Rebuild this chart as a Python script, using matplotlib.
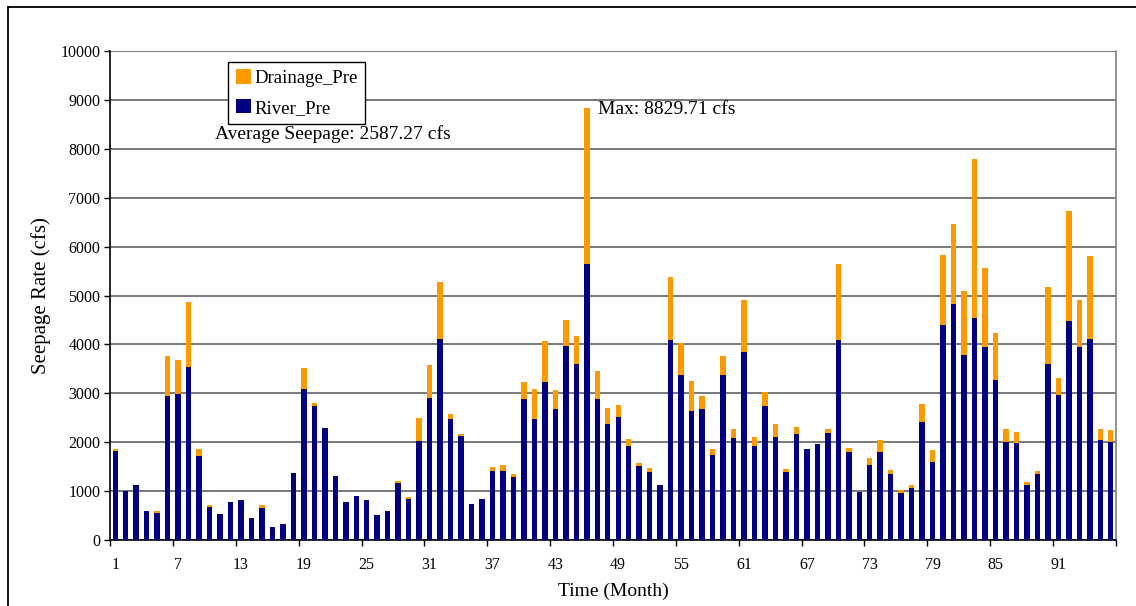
import matplotlib
matplotlib.use("Agg")
import matplotlib.pyplot as plt
from matplotlib.patches import Patch
from matplotlib.lines import Line2D
import numpy as np

plt.rcParams['font.family'] = ['Liberation Serif', 'DejaVu Serif']

# Monthly seepage components (cfs)
months = list(range(1, 97))
river_pre = [
    1814, 999, 1121, 591, 550, 2935, 2976, 3533, 1712, 673,
    530, 774, 815, 448, 652, 265, 326, 1365, 3098, 2731,
    2283, 1304, 774, 897, 815, 510, 591, 1162, 836, 2018,
    2914, 4117, 2466, 2120, 734, 836, 1406, 1406, 1284, 2874,
    2466, 3240, 2670, 3974, 3607, 5650, 2880, 2373, 2516, 1923,
    1514, 1391, 1125, 4091, 3375, 2639, 2680, 1739, 3375, 2086,
    3845, 1923, 2741, 2107, 1391, 2168, 1861, 1964, 2189, 4091,
    1800, 981, 1531, 1796, 1347, 959, 1061, 2408, 1592, 4388,
    4817, 3776, 4531, 3939, 3265, 2000, 1980, 1122, 1347, 3592,
    2959, 4470, 3939, 4102, 2041, 2000,
]
drainage_pre = [
    41, 0, 0, 0, 41, 835, 713, 1338, 143, 40,
    0, 0, 0, 0, 61, 0, 0, 0, 428, 61,
    0, 0, 0, 0, 0, 0, 0, 40, 40, 468,
    673, 1162, 102, 40, 0, 0, 82, 123, 61, 366,
    632, 836, 407, 530, 571, 3179.71, 570, 327, 245, 143,
    61, 82, 0, 1288, 655, 613, 265, 122, 389, 184,
    1064, 184, 286, 266, 61, 143, 0, 0, 81, 1554,
    80, 0, 143, 245, 82, 61, 61, 368, 245, 1449,
    1653, 1326, 3265, 1633, 960, 265, 224, 62, 61, 1592,
    347, 2265, 979, 1715, 224, 245,
]
x_tick_labels = [str(m) for m in range(1, 97, 6)]
avg_text = "Average Seepage: 2587.27 cfs"
max_text = "Max: 8829.71 cfs"

W, H = 1136, 606
fig = plt.figure(figsize=(W / 100, H / 100), dpi=100)
fig.patch.set_facecolor('white')

# outer chart border (top and left edges visible)
fig.add_artist(Line2D([8 / W, 8 / W], [0, 1 - 7 / H], transform=fig.transFigure,
                      color='black', lw=1.3))
fig.add_artist(Line2D([8 / W, 1], [1 - 7 / H, 1 - 7 / H], transform=fig.transFigure,
                      color='black', lw=1.3))

left, right = 110 / W, 1116 / W
bottom, top = (H - 540) / H, (H - 51) / H
ax = fig.add_axes([left, bottom, right - left, top - bottom])

navy = '#000080'
orange = '#FF9900'
bw = 0.52
ax.bar(months, river_pre, width=bw, color=navy, zorder=3, label='River_Pre')
ax.bar(months, drainage_pre, width=bw, bottom=river_pre, color=orange, zorder=3,
       label='Drainage_Pre')

ax.set_xlim(0.5, 96.5)
ax.set_ylim(0, 10000)
ax.set_yticks(np.arange(0, 10001, 1000))
ax.yaxis.grid(True, color='#555555', lw=1.1, zorder=1)
ax.set_axisbelow(True)

# category-style ticks between months, labels every sixth month
ax.set_xticks(np.arange(0.5, 97, 6))
ax.set_xticklabels([])
ax.set_xticks(np.arange(1, 97, 6), minor=True)
ax.set_xticklabels(x_tick_labels, minor=True)
ax.tick_params(axis='x', which='major', direction='out', length=4, width=1,
               color='black')
ax.tick_params(axis='x', which='minor', length=0, pad=12, labelsize=11.5)
ax.tick_params(axis='y', direction='out', length=4, width=1, labelsize=11.5, pad=3)

for s in ['left', 'bottom']:
    ax.spines[s].set_color('black')
    ax.spines[s].set_linewidth(1.2)
ax.spines['right'].set_color('#808080')
ax.spines['right'].set_linewidth(1.2)
ax.spines['top'].set_visible(False)

ax.set_ylabel('Seepage Rate (cfs)', fontsize=15, labelpad=7)
ax.set_xlabel('Time (Month)', fontsize=14, labelpad=7)

handles = [Patch(facecolor=orange, edgecolor='none', label='Drainage_Pre'),
           Patch(facecolor=navy, edgecolor='none', label='River_Pre')]
leg = ax.legend(handles=handles, loc='upper left', bbox_to_anchor=(0.1173, 0.978),
                fontsize=13.5, frameon=True, fancybox=False, framealpha=1,
                edgecolor='black', handlelength=0.8, handleheight=0.8,
                handletextpad=0.2, labelspacing=0.65, borderpad=0.4,
                borderaxespad=0)
leg.get_frame().set_linewidth(1.0)
leg.set_zorder(5)

ax.text(0.1044, 0.830, avg_text, transform=ax.transAxes, fontsize=14,
        va='center', ha='left', zorder=6)
ax.text((598 - 110) / 1006, (540 - 110) / 489, max_text, transform=ax.transAxes,
        fontsize=14, va='center', ha='left', zorder=6)

fig.savefig('out.png', dpi=100)
